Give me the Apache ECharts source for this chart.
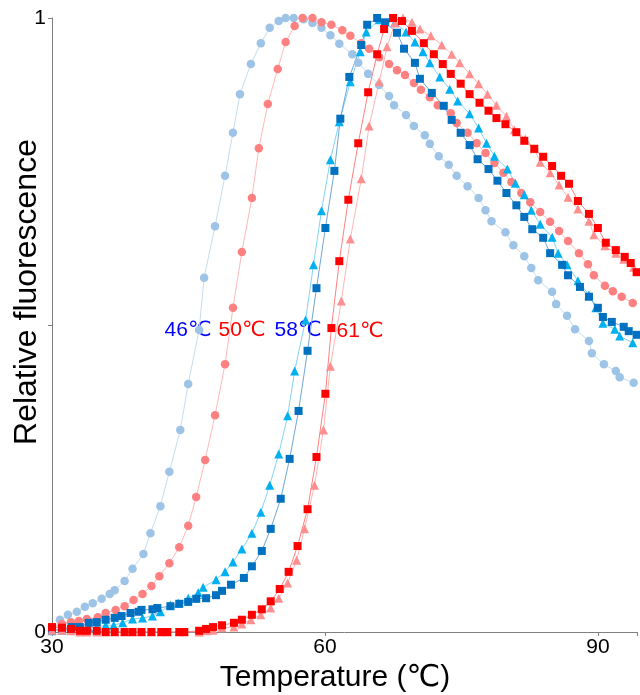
<!DOCTYPE html>
<html>
<head>
<meta charset="utf-8">
<script src="https://cdn.jsdelivr.net/npm/echarts@6/dist/echarts.min.js"></script>
<style>html,body{margin:0;padding:0;background:#fff;}#c{width:640px;height:695px;}</style>
</head>
<body>
<div id="c"></div>
<script>
// x tick labels shown
var xTicks = [30, 60, 90];
var yTicks = [0, 1];

// 46℃ series (light blue circles)
var t46 = [30.0,30.87,31.75,32.73,33.61,34.48,35.46,36.34,36.89,37.98,38.85,40.05,40.82,41.91,42.90,44.10,44.97,46.17,46.72,47.92,49.02,49.89,50.66,51.86,52.95,53.93,54.92,55.68,56.56,57.65,58.63,59.62,60.60,61.58,63.01,63.66,64.75,65.96,67.05,67.60,68.91,69.78,70.98,71.53,72.51,73.61,74.48,75.68,76.89,77.65,78.31,79.84,80.71,81.91,82.68,83.44,84.97,85.41,86.61,87.49,89.02,89.34,90.66,91.97,92.40,93.93];
var v46 = [0.002,0.020,0.028,0.033,0.041,0.047,0.054,0.062,0.068,0.083,0.103,0.127,0.161,0.205,0.261,0.329,0.404,0.492,0.577,0.661,0.743,0.813,0.876,0.925,0.959,0.984,0.995,1.000,1.000,0.998,0.992,0.984,0.972,0.958,0.941,0.927,0.909,0.891,0.873,0.858,0.842,0.824,0.809,0.795,0.775,0.761,0.743,0.726,0.707,0.687,0.669,0.651,0.630,0.612,0.593,0.573,0.554,0.534,0.515,0.493,0.474,0.454,0.436,0.425,0.415,0.406];

// 50℃ series (salmon circles)
var t50 = [30.0,31.09,32.08,32.95,33.83,35.03,35.90,36.99,37.98,38.96,39.95,40.93,41.80,42.90,43.99,44.97,45.85,46.83,47.92,49.02,49.89,50.87,51.97,52.73,53.72,54.81,55.68,56.67,57.54,58.63,59.62,60.71,61.91,62.79,63.99,64.86,65.96,67.05,67.92,68.80,69.78,70.55,71.53,72.40,73.83,74.48,75.68,76.67,77.65,78.63,79.62,80.49,81.58,82.57,83.66,84.75,85.74,86.72,87.92,88.91,89.56,90.77,91.64,92.62,93.83];
var v50 = [0.008,0.013,0.016,0.018,0.021,0.024,0.031,0.036,0.042,0.052,0.062,0.075,0.091,0.112,0.138,0.173,0.220,0.280,0.353,0.436,0.528,0.619,0.707,0.788,0.860,0.917,0.961,0.987,1.000,1.000,0.993,0.989,0.980,0.971,0.959,0.950,0.936,0.925,0.915,0.907,0.894,0.883,0.871,0.858,0.845,0.829,0.813,0.796,0.780,0.764,0.748,0.733,0.715,0.700,0.684,0.668,0.653,0.637,0.617,0.599,0.581,0.564,0.555,0.546,0.536];

// 58℃ series A (cyan triangles)
var t58a = [30.0,31.09,32.08,33.06,34.04,34.92,35.90,36.78,37.76,38.85,39.95,41.04,41.91,43.01,43.88,44.97,46.07,46.61,48.03,49.02,49.89,50.87,51.97,52.95,53.93,54.92,55.90,56.67,57.87,58.74,59.62,60.60,61.58,62.79,63.88,64.54,65.96,67.70,68.91,69.89,70.77,71.53,72.62,73.72,74.59,75.90,76.89,77.76,78.63,80.05,80.93,81.91,82.68,83.66,84.97,85.63,86.61,87.81,89.02,89.78,90.55,91.86,92.40,93.83];
var v58a = [0.002,0.003,0.005,0.005,0.007,0.008,0.011,0.011,0.015,0.021,0.023,0.026,0.033,0.044,0.047,0.055,0.064,0.073,0.085,0.098,0.114,0.135,0.161,0.195,0.239,0.290,0.352,0.425,0.508,0.598,0.686,0.769,0.831,0.896,0.945,0.977,0.997,0.993,0.977,0.961,0.945,0.927,0.904,0.884,0.865,0.844,0.821,0.796,0.775,0.754,0.731,0.712,0.687,0.664,0.643,0.617,0.598,0.572,0.549,0.528,0.503,0.493,0.482,0.471];

// 58℃ series B (dark blue squares)
var t58b = [30.0,31.09,32.19,33.06,34.04,34.92,35.90,36.89,37.65,38.63,39.51,39.84,41.04,41.58,43.01,43.99,44.97,45.85,46.94,48.03,48.69,49.67,51.09,51.97,53.06,54.04,55.14,56.12,57.10,58.09,59.07,60.05,61.04,61.69,62.68,63.99,64.64,65.74,66.61,67.92,68.69,69.89,70.44,71.75,73.06,73.93,74.92,75.90,76.78,77.98,78.96,79.95,81.04,81.91,82.79,83.99,84.75,86.07,86.72,88.03,89.02,90.0,90.55,91.53,92.84,93.39,94.26];
var v58b = [0.003,0.005,0.008,0.008,0.015,0.016,0.020,0.023,0.026,0.031,0.033,0.036,0.037,0.039,0.042,0.046,0.049,0.054,0.055,0.060,0.067,0.077,0.088,0.107,0.132,0.168,0.217,0.282,0.360,0.458,0.560,0.658,0.751,0.836,0.904,0.956,0.989,1.000,0.993,0.976,0.950,0.927,0.901,0.878,0.857,0.834,0.813,0.793,0.770,0.754,0.735,0.715,0.695,0.676,0.656,0.642,0.617,0.598,0.581,0.562,0.546,0.528,0.513,0.505,0.497,0.490,0.484];

// 61℃ series A (light red triangles)
var t61a = [30.0,31.09,32.08,33.06,33.83,34.92,35.90,36.89,37.98,38.85,39.84,40.93,42.02,42.68,43.99,44.54,46.17,46.94,47.70,48.69,50.0,50.87,51.86,52.95,54.04,54.92,55.90,56.89,57.76,58.85,59.84,60.60,61.80,62.79,63.99,64.86,65.96,66.83,67.70,68.58,69.56,70.44,71.64,72.84,73.93,74.81,75.90,76.89,77.87,78.85,79.95,80.82,82.02,83.01,83.66,84.75,85.74,86.72,87.81,89.02,89.56,90.77,91.97,92.84,93.93];
var v61a = [0.003,0.003,0.002,0,0,0,0,0,0,0,0,0,0,0,0,0,0,0.002,0.003,0.007,0.008,0.013,0.020,0.028,0.039,0.055,0.080,0.117,0.168,0.239,0.329,0.433,0.539,0.640,0.738,0.824,0.896,0.953,0.992,1.000,0.993,0.982,0.971,0.956,0.941,0.927,0.909,0.893,0.876,0.858,0.840,0.818,0.803,0.787,0.765,0.748,0.728,0.708,0.689,0.669,0.647,0.629,0.617,0.607,0.594];

// 61℃ series B (red squares)
var t61b = [30.0,31.09,32.08,33.06,33.83,34.92,35.90,36.89,37.98,38.85,39.84,40.93,42.02,42.68,43.99,44.54,46.17,46.94,47.70,48.69,50.0,50.87,51.97,53.06,54.04,55.03,56.01,56.99,58.09,59.07,60.05,60.71,61.58,62.57,63.66,64.75,65.74,66.50,67.49,68.47,69.56,70.87,71.97,72.95,73.83,74.92,75.90,76.99,77.98,78.85,79.84,81.04,81.91,83.01,83.99,84.97,85.96,86.83,87.81,89.02,90.0,90.87,91.97,92.95,93.61,94.26];
var v61b = [0.008,0.007,0.005,0.002,0.002,0.002,0,0,0,0,0,0,0,0,0,0,0.002,0.005,0.008,0.011,0.015,0.020,0.028,0.037,0.050,0.070,0.098,0.140,0.200,0.285,0.388,0.495,0.604,0.704,0.796,0.879,0.941,0.982,1.000,0.995,0.979,0.959,0.941,0.925,0.909,0.893,0.876,0.862,0.849,0.837,0.827,0.814,0.800,0.787,0.774,0.759,0.743,0.730,0.702,0.681,0.658,0.634,0.622,0.611,0.601,0.586];

// annotation labels
var annoText = ['46℃', '50℃', '58℃', '61℃'];
var annoColor = ['#0000ff', '#ff0000', '#0000ff', '#ff0000'];

function zip(t, v) {
  var n = Math.min(t.length, v.length), out = [];
  for (var i = 0; i < n; i++) out.push([t[i], v[i]]);
  return out;
}

var FONT = '"Liberation Sans", Arial, "DejaVu Sans", sans-serif';

function mkSeries(data, symbol, size, color, lineColor) {
  return {
    type: 'line',
    data: data,
    symbol: symbol,
    symbolSize: size,
    showAllSymbol: true,
    itemStyle: { color: color, opacity: 1 },
    lineStyle: { color: lineColor, width: 1 },
    emphasis: { disabled: true },
    animation: false
  };
}

var chart = echarts.init(document.getElementById('c'), null, { renderer: 'canvas' });
var option = {
  backgroundColor: '#ffffff',
  animation: false,
  grid: { left: 52, right: 0, top: 18, bottom: 63, containLabel: false },
  xAxis: {
    type: 'value', min: 30, max: 94.3, interval: 30,
    splitLine: { show: false },
    axisLine: { lineStyle: { color: '#808080', width: 1 } },
    axisTick: { show: true, length: 4, lineStyle: { color: '#808080' } },
    axisLabel: {
      color: '#000', fontSize: 21, fontFamily: FONT, margin: 5,
      formatter: function (v) { return xTicks.indexOf(v) >= 0 ? String(v) : ''; }
    }
  },
  yAxis: {
    type: 'value', min: 0, max: 1, interval: 0.5,
    splitLine: { show: false },
    axisLine: { show: true, lineStyle: { color: '#808080', width: 1 } },
    axisTick: { show: true, length: 4, lineStyle: { color: '#808080' } },
    axisLabel: {
      color: '#000', fontSize: 21, fontFamily: FONT, margin: 6,
      formatter: function (v) { return yTicks.indexOf(v) >= 0 ? String(v) : ''; }
    }
  },
  series: [
    mkSeries(zip(t46, v46), 'circle', 8.5, '#9dc3e6', '#c5dcf0'),
    mkSeries(zip(t50, v50), 'circle', 8.5, '#ff8080', '#ffb8b8'),
    mkSeries(zip(t58a, v58a), 'triangle', 9, '#00b0f0', '#80d4f5'),
    mkSeries(zip(t58b, v58b), 'rect', 8, '#0070c0', '#6fa6d8'),
    mkSeries(zip(t61a, v61a), 'triangle', 9, '#ff8f8f', '#ffb4b4'),
    mkSeries(zip(t61b, v61b), 'rect', 8, '#ff0000', '#ff8080')
  ],
  graphic: [
    { type: 'text', x: 335, y: 678, style: { text: 'Temperature (℃)', fill: '#000', font: '30px ' + FONT, textAlign: 'center', textVerticalAlign: 'middle' } },
    { type: 'text', x: 27, y: 292, rotation: Math.PI / 2, style: { text: 'Relative fluorescence', fill: '#000', font: '32px ' + FONT, textAlign: 'center', textVerticalAlign: 'middle' } },
    { type: 'text', x: 188, y: 330, style: { text: annoText[0], fill: annoColor[0], font: '21px ' + FONT, textAlign: 'center', textVerticalAlign: 'middle' } },
    { type: 'text', x: 242, y: 330, style: { text: annoText[1], fill: annoColor[1], font: '21px ' + FONT, textAlign: 'center', textVerticalAlign: 'middle' } },
    { type: 'text', x: 298, y: 330, style: { text: annoText[2], fill: annoColor[2], font: '21px ' + FONT, textAlign: 'center', textVerticalAlign: 'middle' } },
    { type: 'text', x: 360, y: 331, style: { text: annoText[3], fill: annoColor[3], font: '21px ' + FONT, textAlign: 'center', textVerticalAlign: 'middle' } }
  ]
};
chart.setOption(option);
</script>
</body>
</html>
